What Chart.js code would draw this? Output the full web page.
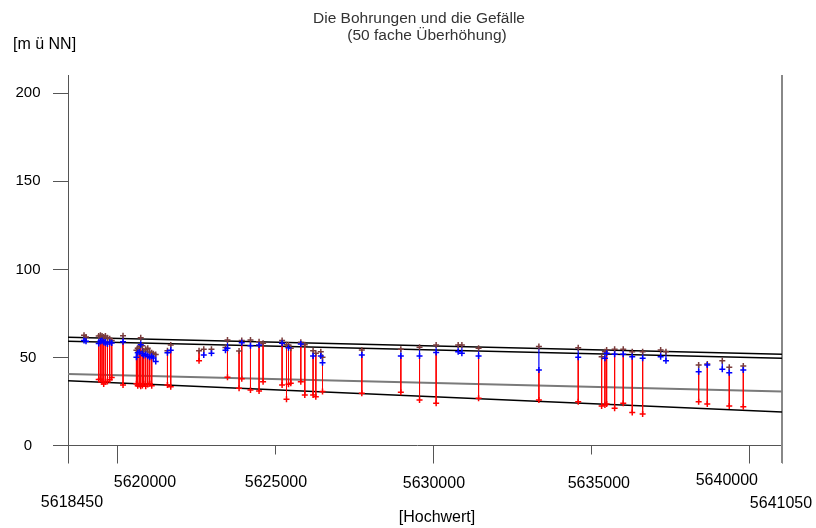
<!DOCTYPE html>
<html>
<head>
<meta charset="utf-8">
<script src="https://cdn.jsdelivr.net/npm/chart.js@4.4.1/dist/chart.umd.min.js"></script>
<style>
  html, body { margin: 0; padding: 0; background: #fff; }
  #wrap { width: 816px; height: 528px; }
</style>
</head>
<body>
<div id="wrap"><canvas id="c" width="816" height="528"></canvas></div>
<script>
// Bohrungen: Hochwert, Geländeoberkante, Wasserstand, Endteufe (m ü NN)
const hochwert = [
  5618957, 5619020, 5619422, 5619476, 5619527, 5619580, 5619634, 5619698, 5619770, 5619834,
  5620192, 5620616, 5620657, 5620711, 5620752, 5620806, 5620847, 5620910, 5620974, 5621037,
  5621100, 5621154, 5621227, 5621598, 5621702, 5622598, 5622747, 5622991, 5623434, 5623498,
  5623865, 5623950, 5624226, 5624498, 5624625, 5625227, 5625366, 5625429, 5625502, 5625819,
  5625945, 5626208, 5626294, 5626452, 5626506, 5627750, 5628985, 5629577, 5630103, 5630800,
  5630917, 5631446, 5633355, 5634600, 5635341, 5635445, 5635499, 5635752, 5636025, 5636310,
  5636639, 5637209, 5637377, 5638412, 5638685, 5639160, 5639381, 5639825
];
const gelaende = [
  62.5, 61.5, 62.0, 62.5, 62.0, 61.5, 62.0, 61.0, 60.5, 59.5,
  62.2, 54.0, 55.0, 56.0, 61.0, 56.5, 53.5, 54.5, 55.0, 53.0,
  52.5, 52.0, 51.5, 53.7, 56.9, 53.7, 54.5, 54.5, 55.5, 59.8,
  53.5, 59.4, 59.8, 58.8, 57.9, 59.4, 57.0, 56.9, 55.0, 58.5,
  57.0, 53.7, 52.2, 53.1, 50.0, 54.1, 54.5, 55.6, 56.9, 56.9,
  56.9, 55.0, 56.0, 55.4, 50.3, 53.1, 54.1, 54.5, 54.5, 53.1,
  53.1, 54.1, 53.1, 45.6, 46.2, 48.0, 44.3, 45.0
];
const wasserstand = [
  59.5, 59.0, 57.8, 59.0, 59.5, 58.5, 58.0, 57.5, 58.5, 58.0,
  58.8, 50.0, 52.5, 53.0, 57.0, 52.0, 51.0, 51.5, 50.5, 50.0,
  50.5, 49.5, 47.5, 52.5, 54.0, null, 51.3, 52.2, 54.0, 55.0,
  null, 58.2, 56.5, 56.9, null, 57.9, null, 55.4, null, 57.5,
  null, 50.7, null, 50.7, 46.9, 51.3, 50.7, 50.7, 52.6, 53.1,
  52.2, 50.7, 42.8, 50.0, null, 49.4, 52.2, 51.7, 51.7, 50.3,
  49.4, 50.3, 48.0, 41.8, 45.5, 43.1, 41.2, 42.8
];
const endteufe = [
  null, null, 37.3, 37.5, 36.0, 34.8, 36.0, 36.2, 37.2, 38.5,
  34.2, 35.0, 33.8, 34.5, 33.5, 34.0, 35.0, 33.5, 34.5, 35.0,
  33.8, null, null, 34.2, 33.3, 48.0, null, null, null, 38.6,
  32.4, 37.8, 31.4, 30.8, 36.1, 34.2, 26.1, 34.6, 35.2, 36.1,
  28.6, 28.6, 27.6, null, 30.5, 29.5, 30.1, 25.7, 23.9, null,
  null, 26.7, 25.7, 24.8, 22.3, 22.9, 23.5, 21.0, 23.9, 18.6,
  17.8, null, null, 24.8, 23.5, null, 22.3, 21.9
];

// Gefälle-Linien (Werte am linken und rechten Rand)
const gefaelleX = [5618450, 5641050];
const gefaelleOben1 = [61.3, 51.6];
const gefaelleOben2 = [59.0, 49.4];
const gefaelleMitte = [40.5, 30.5];
const gefaelleUnten = [36.7, 18.9];

// Achsen
const yTickWerte = [0, 50, 100, 150, 200];
const xTickWerte = [5618450, 5620000, 5625000, 5630000, 5635000, 5640000, 5641050];
const xMin = 5618450, xMax = 5641050;

// Beschriftungsversatz und Strichlänge der Hochwert-Ticks
const xLabelDx = [4, 28, 1, 1, 8, -22, -1];
const xLabelDy = [57, 37, 37, 38, 38, 35, 58];
const xTickLaenge = [18, 18, 9, 18, 9, 18, 18];

const FONT = '"Liberation Sans", Arial, sans-serif';

// Segmente aus den Bohrdaten aufbauen (null trennt die Striche)
const blauSeg = [], rotSeg = [];
hochwert.forEach((x, i) => {
  if (wasserstand[i] !== null) {
    blauSeg.push({ x, y: gelaende[i] }, { x, y: wasserstand[i] }, { x, y: null });
  }
  if (endteufe[i] !== null) {
    const start = wasserstand[i] !== null ? wasserstand[i] : gelaende[i];
    rotSeg.push({ x, y: start }, { x, y: endteufe[i] }, { x, y: null });
  }
});
const punkte = (werte) => hochwert
  .map((x, i) => ({ x, y: werte[i] }))
  .filter(p => p.y !== null);
const gefaelle = (werte) => gefaelleX.map((x, i) => ({ x, y: werte[i] }));

const achsen = {
  id: 'achsen',
  beforeDatasetsDraw(chart) {
    const { ctx, chartArea: a, scales: { x, y } } = chart;
    const y0 = Math.round(y.getPixelForValue(0)) + 0.5;
    ctx.save();
    ctx.lineWidth = 1;
    ctx.strokeStyle = '#555';
    ctx.beginPath();
    // linke Achse
    ctx.moveTo(a.left + 0.5, a.top);
    ctx.lineTo(a.left + 0.5, a.bottom);
    // Nulllinie
    ctx.moveTo(a.left - 15, y0);
    ctx.lineTo(a.right, y0);
    // y-Ticks
    yTickWerte.forEach(v => {
      const py = Math.round(y.getPixelForValue(v)) + 0.5;
      ctx.moveTo(a.left - 15, py);
      ctx.lineTo(a.left, py);
    });
    // x-Ticks
    xTickWerte.forEach((v, i) => {
      const px = Math.round(x.getPixelForValue(v)) + 0.5;
      ctx.moveTo(px, y0);
      ctx.lineTo(px, y0 + xTickLaenge[i]);
    });
    ctx.stroke();
    // rechter Rand
    ctx.strokeStyle = '#888';
    ctx.lineWidth = 2;
    ctx.beginPath();
    ctx.moveTo(a.right, a.top);
    ctx.lineTo(a.right, a.bottom);
    ctx.stroke();
    ctx.restore();
  },
  afterDraw(chart) {
    const { ctx, chartArea: a, scales: { x, y } } = chart;
    const y0 = y.getPixelForValue(0);
    ctx.save();
    ctx.fillStyle = '#000';
    ctx.textBaseline = 'middle';
    ctx.textAlign = 'center';
    ctx.font = '15px ' + FONT;
    yTickWerte.forEach(v => {
      ctx.fillText(String(v), a.left - 40, y.getPixelForValue(v) + 0.5);
    });
    ctx.font = '16px ' + FONT;
    xTickWerte.forEach((v, i) => {
      ctx.fillText(String(v), x.getPixelForValue(v) + xLabelDx[i], y0 + xLabelDy[i]);
    });
    ctx.fillText('[Hochwert]', 437, 518);
    ctx.textAlign = 'left';
    ctx.fillText('[m ü NN]', 13, 45);
    ctx.fillStyle = '#333';
    ctx.textAlign = 'center';
    ctx.font = '15.5px ' + FONT;
    ctx.fillText('Die Bohrungen und die Gefälle', 419, 19);
    ctx.fillText('(50 fache Überhöhung)', 427, 36);
    ctx.restore();
  }
};

const kreuz = (farbe, daten) => ({
  type: 'scatter', data: daten, showLine: false,
  pointStyle: 'cross', pointRadius: 3, pointBorderWidth: 1.5,
  borderColor: farbe, backgroundColor: farbe
});
const linie = (farbe, breite, daten) => ({
  type: 'line', data: daten, borderColor: farbe, borderWidth: breite,
  pointRadius: 0, spanGaps: false, tension: 0, fill: false
});

new Chart(document.getElementById('c'), {
  type: 'line',
  data: {
    datasets: [
      kreuz('#ff0000', punkte(endteufe)),
      kreuz('#0000ff', punkte(wasserstand)),
      kreuz('#7a3c3c', punkte(gelaende)),
      linie('#0000ff', 1.2, blauSeg),
      linie('#ff0000', 1, rotSeg),
      linie('#000000', 1.5, gefaelle(gefaelleOben1)),
      linie('#000000', 1.5, gefaelle(gefaelleOben2)),
      linie('#7a7a7a', 2, gefaelle(gefaelleMitte)),
      linie('#000000', 1.5, gefaelle(gefaelleUnten))
    ]
  },
  options: {
    responsive: false,
    animation: false,
    devicePixelRatio: 1,
    layout: { padding: { left: 68, right: 34, top: 75, bottom: 65 } },
    scales: {
      x: { type: 'linear', min: xMin, max: xMax, display: false },
      y: { type: 'linear', min: -10, max: 210, display: false }
    },
    plugins: { legend: { display: false }, tooltip: { enabled: false }, title: { display: false } }
  },
  plugins: [achsen]
});
</script>
</body>
</html>
